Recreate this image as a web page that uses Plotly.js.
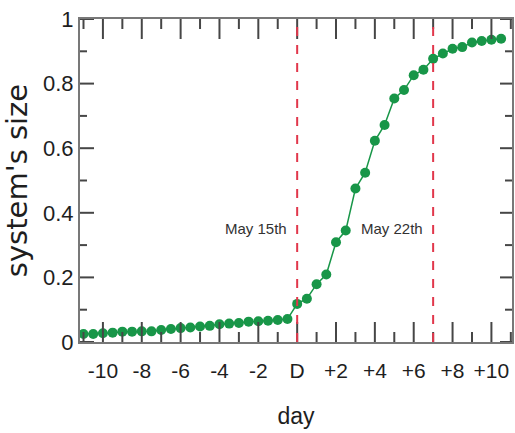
<!DOCTYPE html>
<html>
<head>
<meta charset="utf-8">
<script src="https://cdn.plot.ly/plotly-3.0.1.min.js"></script>
<style>html,body{margin:0;padding:0;background:#fff;}#chart{width:515px;height:433px;}</style>
</head>
<body>
<div id="chart"></div>
<script>
// Data
const days = [-11,-10.5,-10,-9.5,-9,-8.5,-8,-7.5,-7,-6.5,-6,-5.5,-5,-4.5,-4,-3.5,-3,-2.5,-2,-1.5,-1,-0.5,
  0,0.5,1,1.5,2,2.5,3,3.5,4,4.5,5,5.5,6,6.5,7,7.5,8,8.5,9,9.5,10,10.5];
const systemSize = [0.025,0.025,0.027,0.029,0.032,0.032,0.033,0.033,0.037,0.040,0.043,0.045,0.048,0.050,0.055,0.057,0.059,0.063,0.064,0.066,0.068,0.071,
  0.118,0.134,0.179,0.209,0.309,0.345,0.475,0.524,0.623,0.672,0.754,0.780,0.826,0.843,0.877,0.893,0.908,0.913,0.927,0.932,0.936,0.939];
const tickDays = [-10,-8,-6,-4,-2,0,2,4,6,8,10];
const tickLabels = ['-10','-8','-6','-4','-2','D','+2','+4','+6','+8','+10'];
const minorDays = [-11,-9,-7,-5,-3,-1,1,3,5,7,9,11];
const yTicks = [0,0.2,0.4,0.6,0.8,1];
const yMinorTicks = [0.1,0.3,0.5,0.7,0.9];
const eventDays = [0, 7];
const eventLabels = ['May 15th', 'May 22th'];
const eventLabelX = [-2.1, 4.9];
const eventLabelY = [0.35, 0.35];

const W = 515, H = 433;
const M = {l: 80, r: 3, t: 19, b: 91};
const plotW = W - M.l - M.r, plotH = H - M.t - M.b;
const xRange = [-11.18, 11.06];
const yRange = [0, 1];
const xSpan = xRange[1] - xRange[0], ySpan = yRange[1] - yRange[0];
const green = 'rgb(24,150,72)';
const red = 'rgb(225,55,75)';
const axisCol = 'rgb(120,120,120)';
const tickCol = 'rgb(70,70,70)';
const fontFam = 'Liberation Sans, Arial, sans-serif';

const traces = [{
  x: days, y: systemSize, type: 'scatter', mode: 'lines+markers',
  line: {color: green, width: 1.5},
  marker: {color: green, size: 10},
  hoverinfo: 'skip', showlegend: false
}];

// inside tick marks on all four sides, drawn as line segments through the axis scales
function xTickTrace(vals, lenPx) {
  const d = lenPx / plotH * ySpan;
  const x = [], y = [];
  vals.forEach(v => {
    x.push(v, v, null, v, v, null);
    y.push(yRange[0], yRange[0] + d, null, yRange[1], yRange[1] - d, null);
  });
  return {x: x, y: y, type: 'scatter', mode: 'lines', line: {color: tickCol, width: 2},
    hoverinfo: 'skip', showlegend: false, connectgaps: false};
}
function yTickTrace(vals, lenLeft, lenRight) {
  const dl = lenLeft / plotW * xSpan, dr = lenRight / plotW * xSpan;
  const x = [], y = [];
  vals.forEach(v => {
    x.push(xRange[0], xRange[0] + dl, null, xRange[1], xRange[1] - dr, null);
    y.push(v, v, null, v, v, null);
  });
  return {x: x, y: y, type: 'scatter', mode: 'lines', line: {color: tickCol, width: 2},
    hoverinfo: 'skip', showlegend: false, connectgaps: false};
}
traces.push(xTickTrace(tickDays, 20));
traces.push(xTickTrace(minorDays, 10));
traces.push(yTickTrace(yTicks, 14, 12));
traces.push(yTickTrace(yMinorTicks, 7, 7));

const shapes = eventDays.map(d => ({
  type: 'line', xref: 'x', yref: 'y', x0: d, x1: d, y0: yRange[0], y1: yRange[1],
  line: {color: red, width: 2, dash: 'dash'}, layer: 'above'
}));

const annotations = eventLabels.map((t, i) => ({
  x: eventLabelX[i], y: eventLabelY[i], xref: 'x', yref: 'y', text: t,
  showarrow: false, font: {family: fontFam, size: 15, color: 'rgb(50,50,50)'}
}));

const layout = {
  width: W, height: H,
  margin: M,
  paper_bgcolor: '#fff', plot_bgcolor: '#fff',
  showlegend: false,
  shapes: shapes,
  annotations: annotations,
  xaxis: {
    range: xRange, showgrid: false, zeroline: false,
    showline: true, linecolor: axisCol, linewidth: 2, mirror: true,
    ticks: '', tickmode: 'array', tickvals: tickDays, ticktext: tickLabels,
    ticklabelstandoff: 9,
    tickfont: {family: fontFam, size: 21, color: 'rgb(30,30,30)'},
    title: {text: 'day', font: {family: fontFam, size: 23, color: 'rgb(30,30,30)'}, standoff: 27}
  },
  yaxis: {
    range: yRange, showgrid: false, zeroline: false,
    showline: true, linecolor: axisCol, linewidth: 2, mirror: true,
    ticks: '', tickmode: 'array', tickvals: yTicks,
    tickfont: {family: fontFam, size: 22, color: 'rgb(30,30,30)'},
    title: {text: "system's size", font: {family: 'DejaVu Sans, sans-serif', size: 29, color: 'rgb(30,30,30)'}, standoff: 9}
  }
};

Plotly.newPlot('chart', traces, layout, {staticPlot: true, displayModeBar: false});
</script>
</body>
</html>
